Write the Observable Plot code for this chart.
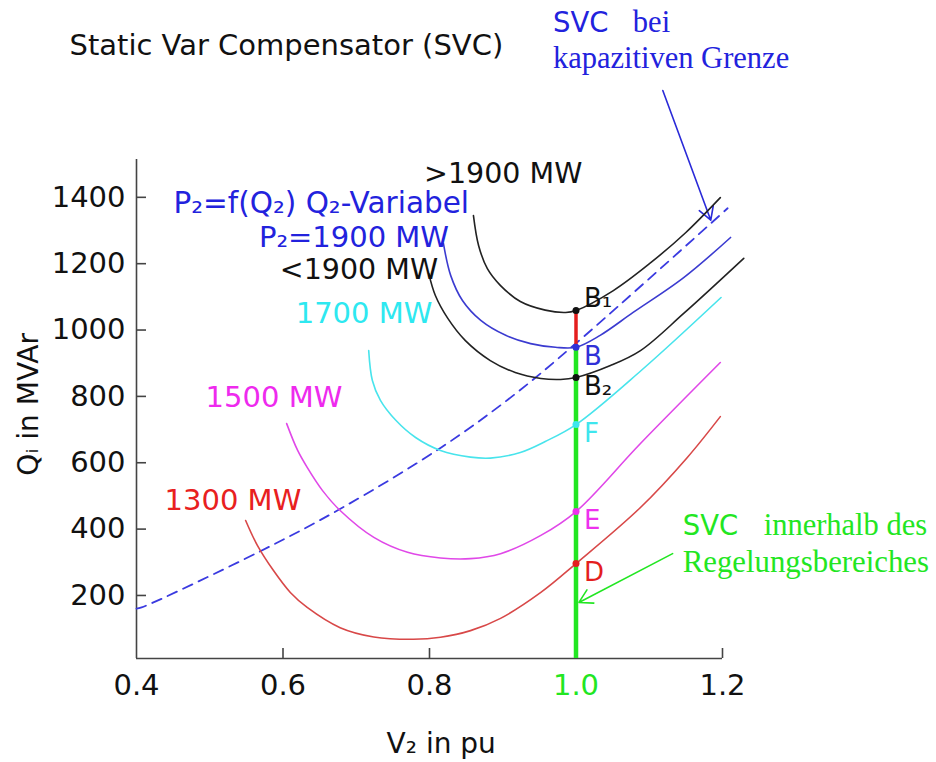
<!DOCTYPE html>
<html><head><meta charset="utf-8">
<script src="https://cdn.jsdelivr.net/npm/d3@7"></script>
<script src="https://cdn.jsdelivr.net/npm/@observablehq/plot@0.6"></script>
<style>body{margin:0;background:#fff}#chart{position:absolute;left:0;top:0}</style>
</head><body><div id="chart"></div>
<script>
// V2 in pu, Q in MVAr
const curveGt1900 = [[0.860,1345],[0.867,1255],[0.879,1185],[0.897,1134],[0.924,1086],[0.958,1060],[0.986,1053],[1.0,1059],[1.051,1119],[1.102,1203],[1.150,1294],[1.197,1399]];
const curve1900 = [[0.819,1261],[0.829,1164],[0.845,1089],[0.870,1029],[0.904,984],[0.938,959],[0.972,948],[1.0,948],[1.033,984],[1.078,1053],[1.147,1158],[1.211,1279]];
const curveLt1900 = [[0.799,1170],[0.808,1104],[0.825,1035],[0.849,968],[0.883,908],[0.917,872],[0.952,854],[0.979,851],[1.0,857],[1.047,893],[1.088,938],[1.147,1050],[1.229,1216]];
const curve1700 = [[0.717,938],[0.722,848],[0.733,788],[0.754,728],[0.781,676],[0.815,637],[0.856,617],[0.883,614],[0.924,631],[0.958,664],[1.0,715],[1.089,878],[1.198,1098]];
const curve1500 = [[0.605,718],[0.620,637],[0.633,586],[0.654,516],[0.678,456],[0.724,375],[0.770,330],[0.815,313],[0.856,311],[0.897,326],[0.952,381],[1.0,453],[1.088,658],[1.197,902]];
const curve1300 = [[0.549,426],[0.565,351],[0.587,275],[0.610,209],[0.633,164],[0.678,103],[0.724,75],[0.778,68],[0.815,74],[0.856,94],[0.897,131],[0.952,209],[1.0,296],[1.088,465],[1.152,616],[1.197,739]];
const curveLimit = [[0.4,160],[0.407,164],[0.566,330],[0.679,462],[0.816,646],[0.911,797],[1.0,960],[1.207,1367]];

const pointNames = ["B₁","B","B₂","F","E","D"];
const pointQ = [1059, 948, 857, 715, 453, 296];
const pointColors = ["#111","#3030d8","#111","#3ee6ee","#ee30ee","#e41e1e"];

const yTicks = [200,400,600,800,1000,1200,1400];
const xTicksBlack = [0.4,0.6,0.8,1.2];
const xTickGreen = [1.0];

const green = "#22e622";
const blueTxt = "#2222dd";
const serif = "Liberation Serif";

const pts = pointNames.map((n,i)=>({name:n, v:1.0, q:pointQ[i], color:pointColors[i]}));
const fmt = d3.format(".1f");

const seriesLine = (data, stroke, extra={}) => Plot.line(data, {x: d=>d[0], y: d=>d[1], stroke, strokeWidth: 1.6, curve: "catmull-rom", ...extra});

const chart = Plot.plot({
  width: 936, height: 762,
  marginLeft: 136, marginRight: 214, marginTop: 159, marginBottom: 104,
  x: {domain: [0.4, 1.2], axis: null},
  y: {domain: [10, 1514], axis: null},
  style: {fontFamily: "DejaVu Sans", background: "white", overflow: "visible"},
  marks: [
    // axes
    Plot.ruleX([0.4], {stroke: "#444", strokeWidth: 1.6}),
    Plot.ruleY([10], {stroke: "#444", strokeWidth: 1.6}),
    Plot.tickY(yTicks, {y: d=>d, insetRight: 576, stroke: "#444", strokeWidth: 1.6}),
    Plot.tickX(xTicksBlack.slice(1).concat(xTickGreen), {x: d=>d, insetTop: 489, stroke: "#444", strokeWidth: 1.6}),
    Plot.text(yTicks, {x: 0.4, y: d=>d, text: d=>String(d), textAnchor: "end", dx: -11, fontSize: 29, fill: "#111"}),
    Plot.text(xTicksBlack, {x: d=>d, y: 10, text: d=>fmt(d), lineAnchor: "top", dy: 16, fontSize: 29, fill: "#111"}),
    Plot.text(xTickGreen, {x: d=>d, y: 10, text: d=>fmt(d), lineAnchor: "top", dy: 16, fontSize: 29, fill: green}),
    Plot.text(["V₂ in pu"], {x: 0.816, y: -249, text: d=>d, fontSize: 28, fill: "#111"}),
    Plot.text(["Qᵢ in MVAr"], {x: 0.253, y: 776, text: d=>d, rotate: -90, fontSize: 28, fill: "#111"}),
    // title & annotations
    Plot.text(["Static Var Compensator (SVC)"], {x: 0.3085, y: 1858, text: d=>d, textAnchor: "start", fontSize: 29, fill: "#111"}),
    Plot.text(["SVC"], {x: 0.9685, y: 1897, text: d=>d, textAnchor: "start", lineAnchor: "bottom", fontSize: 27.5, fill: blueTxt}),
    Plot.text(["bei"], {x: 1.0776, y: 1897, text: d=>d, textAnchor: "start", lineAnchor: "bottom", fontSize: 30.5, fontFamily: serif, fill: blueTxt}),
    Plot.text(["kapazitiven Grenze"], {x: 0.9685, y: 1789, text: d=>d, textAnchor: "start", lineAnchor: "bottom", fontSize: 30.5, fontFamily: serif, fill: blueTxt}),
    Plot.text(["SVC"], {x: 1.1457, y: 381, text: d=>d, textAnchor: "start", lineAnchor: "bottom", fontSize: 27.5, fill: green}),
    Plot.text(["innerhalb des"], {x: 1.2562, y: 381, text: d=>d, textAnchor: "start", lineAnchor: "bottom", fontSize: 30.5, fontFamily: serif, fill: green}),
    Plot.text(["Regelungsbereiches"], {x: 1.1457, y: 270, text: d=>d, textAnchor: "start", lineAnchor: "bottom", fontSize: 30.8, fontFamily: serif, fill: green}),
    Plot.arrow([{x1: 1.1185, y1: 1722, x2: 1.184, y2: 1331}], {x1: "x1", y1: "y1", x2: "x2", y2: "y2", stroke: "#2a2ad8", strokeWidth: 1.6, headLength: 14}),
    Plot.arrow([{x1: 1.1319, y1: 326, x2: 1.004, y2: 179}], {x1: "x1", y1: "y1", x2: "x2", y2: "y2", stroke: green, strokeWidth: 1.6, headLength: 14}),
    // curves
    seriesLine(curveLimit, "#3a3ae0", {strokeDasharray: "10,7", strokeWidth: 1.8}),
    seriesLine(curve1300, "#d84848"),
    seriesLine(curve1500, "#e048e8"),
    seriesLine(curve1700, "#48e4ec"),
    seriesLine(curveLt1900, "#222"),
    seriesLine(curve1900, "#3b3bd0"),
    seriesLine(curveGt1900, "#222"),
    // curve labels
    Plot.text([">1900 MW"], {x: 0.7926, y: 1472, text: d=>d, textAnchor: "start", fontSize: 28.5, fill: "#111"}),
    Plot.text(["P₂=f(Q₂) Q₂-Variabel"], {x: 0.854, y: 1382, text: d=>d, textAnchor: "end", fontSize: 29.5, fill: blueTxt}),
    Plot.text(["P₂=1900 MW"], {x: 0.8267, y: 1279, text: d=>d, textAnchor: "end", fontSize: 29, fill: blueTxt}),
    Plot.text(["<1900 MW"], {x: 0.8117, y: 1180, text: d=>d, textAnchor: "end", fontSize: 28.5, fill: "#111"}),
    Plot.text(["1700 MW"], {x: 0.804, y: 1050, text: d=>d, textAnchor: "end", fontSize: 29, fill: "#2ee8f0"}),
    Plot.text(["1500 MW"], {x: 0.681, y: 796, text: d=>d, textAnchor: "end", fontSize: 29, fill: "#ee2aee"}),
    Plot.text(["1300 MW"], {x: 0.625, y: 486, text: d=>d, textAnchor: "end", fontSize: 29, fill: "#e82020"}),
    // SVC operating line at V = 1.0
    Plot.ruleX([1.0], {y1: 10, y2: pointQ[1], stroke: green, strokeWidth: 4.5}),
    Plot.ruleX([1.0], {y1: pointQ[1], y2: pointQ[0], stroke: "#e41e1e", strokeWidth: 3.5}),
    Plot.dot(pts, {x: "v", y: "q", r: 3.5, fill: d=>d.color, stroke: "none"}),
    Plot.text(pts.slice(0,1), {x: "v", y: "q", text: "name", fill: d=>d.color, textAnchor: "start", dx: 8, dy: -12, fontSize: 26}),
    Plot.text(pts.slice(1), {x: "v", y: "q", text: "name", fill: d=>d.color, textAnchor: "start", dx: 8, dy: 9, fontSize: 26})
  ]
});
document.getElementById("chart").appendChild(chart);
</script>
</body></html>
